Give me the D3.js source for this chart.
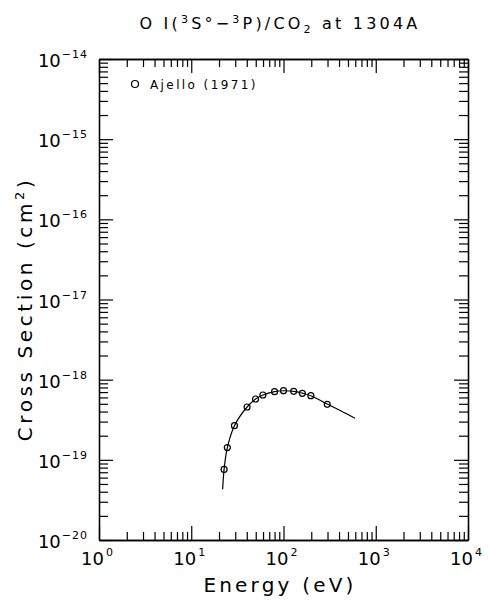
<!DOCTYPE html>
<html>
<head>
<meta charset="utf-8">
<script src="https://cdn.jsdelivr.net/npm/d3@7"></script>
<style>
  body { margin: 0; background: #fff; }
  text { font-family: "DejaVu Sans", sans-serif; font-weight: normal; fill: #000; }
</style>
</head>
<body>
<svg width="490" height="607"></svg>
<script>
// Ajello (1971) measured points
var energy = [22.7, 24.6, 29.4, 40.3, 49.8, 59.8, 80, 100, 129, 160, 198, 298];
var sigma = [7.6e-20, 1.42e-19, 2.67e-19, 4.56e-19, 5.74e-19, 6.44e-19, 7.08e-19, 7.29e-19, 7.16e-19, 6.76e-19, 6.31e-19, 4.93e-19];

// fitted curve
var fitEnergy = [21.9, 22.7, 24.6, 29.4, 40.3, 49.8, 59.8, 80, 100, 129, 160, 198, 298, 417, 596];
var fitSigma = [4.3e-20, 7.6e-20, 1.42e-19, 2.67e-19, 4.56e-19, 5.74e-19, 6.44e-19, 7.08e-19, 7.27e-19, 7.16e-19, 6.78e-19, 6.3e-19, 4.98e-19, 4.1e-19, 3.3e-19];

var xDecades = [0, 1, 2, 3, 4];
var yDecades = [-20, -19, -18, -17, -16, -15, -14];

var svg = d3.select("svg");
var margin = {top: 59, right: 22, bottom: 67, left: 99};
var width = +svg.attr("width") - margin.left - margin.right;
var height = +svg.attr("height") - margin.top - margin.bottom;
var group = svg.append("g").attr("transform", "translate(" + margin.left + "," + margin.top + ")");

var x = d3.scaleLog().domain([1, 1e4]).range([0, width]);
var y = d3.scaleLog().domain([1e-20, 1e-14]).range([height, 0]);

var majorX = xDecades.map(function(d) { return Math.pow(10, d); });
var majorY = yDecades.map(function(d) { return Math.pow(10, d); });
var minorX = [], minorY = [];
xDecades.slice(0, -1).forEach(function(d) {
  for (var k = 2; k < 10; k++) minorX.push(k * Math.pow(10, d));
});
yDecades.slice(0, -1).forEach(function(d) {
  for (var k = 2; k < 10; k++) minorY.push(k * Math.pow(10, d));
});

/* ticks on all four sides, pointing inward */
function addAxis(axis, tf) {
  var g = group.append("g").attr("transform", tf).call(axis);
  g.selectAll("path.domain").attr("stroke", "#000").attr("stroke-width", 1.3);
  g.selectAll("line").attr("stroke", "#000").attr("stroke-width", 1.2);
  g.selectAll("text").remove();
}
[[majorX, 14], [minorX, 8]].forEach(function(p) {
  addAxis(d3.axisBottom(x).tickValues(p[0]).tickSizeInner(-p[1]).tickSizeOuter(0), "translate(0," + height + ")");
  addAxis(d3.axisTop(x).tickValues(p[0]).tickSizeInner(-p[1]).tickSizeOuter(0), "translate(0,0)");
});
[[majorY, 14], [minorY, 9]].forEach(function(p) {
  addAxis(d3.axisLeft(y).tickValues(p[0]).tickSizeInner(-p[1]).tickSizeOuter(0), "translate(0,0)");
  addAxis(d3.axisRight(y).tickValues(p[0]).tickSizeInner(-p[1]).tickSizeOuter(0), "translate(" + width + ",0)");
});

/* tick labels: 10 with superscript exponent */
xDecades.forEach(function(d) {
  var t = group.append("text")
    .attr("x", x(Math.pow(10, d)) - 2)
    .attr("y", height + 25)
    .attr("text-anchor", "middle")
    .style("font-size", "18px");
  t.append("tspan").text("10");
  t.append("tspan").attr("dy", -9).attr("dx", 2).style("font-size", "11px").text(d);
});
yDecades.forEach(function(d) {
  var t = group.append("text")
    .attr("x", -11)
    .attr("y", y(Math.pow(10, d)) + 8)
    .attr("text-anchor", "end")
    .style("font-size", "18px");
  t.append("tspan").text("10");
  t.append("tspan").attr("dy", -9).attr("dx", 1).style("font-size", "11px").style("letter-spacing", "1px").text("\u2212" + Math.abs(d));
});

/* axis titles */
svg.append("text")
  .attr("x", 280).attr("y", 592)
  .attr("text-anchor", "middle")
  .style("font-size", "20px").style("letter-spacing", "3.2px")
  .text("Energy (eV)");

var yt = svg.append("text")
  .attr("transform", "translate(32,309) rotate(-90)")
  .attr("text-anchor", "middle")
  .style("font-size", "20px").style("letter-spacing", "3.6px");
yt.append("tspan").text("Cross Section (cm");
yt.append("tspan").attr("dy", -8).style("font-size", "13px").text("2");
yt.append("tspan").attr("dy", 8).text(")");

/* title */
var title = svg.append("text")
  .attr("x", 280).attr("y", 29)
  .attr("text-anchor", "middle")
  .style("font-size", "16px").style("letter-spacing", "3.2px");
title.append("tspan").text("O I(");
title.append("tspan").attr("dy", -6).style("font-size", "11px").text("3");
title.append("tspan").attr("dy", 6).text("S\u00b0\u2212");
title.append("tspan").attr("dy", -6).style("font-size", "11px").text("3");
title.append("tspan").attr("dy", 6).text("P)/CO");
title.append("tspan").attr("dy", 4).style("font-size", "11px").text("2");
title.append("tspan").attr("dy", -4).text(" at 1304A");

/* fit curve */
var fit = fitEnergy.map(function(e, i) { return {e: e, s: fitSigma[i]}; });
var line = d3.line()
  .x(function(d) { return x(d.e); })
  .y(function(d) { return y(d.s); })
  .curve(d3.curveCatmullRom);

group.append("path")
  .datum(fit)
  .attr("fill", "none")
  .attr("stroke", "#000")
  .attr("stroke-width", 1.2)
  .attr("d", line);

/* data points */
var pts = energy.map(function(e, i) { return {e: e, s: sigma[i]}; });
group.selectAll("circle.pt")
  .data(pts)
  .enter().append("circle")
  .attr("class", "pt")
  .attr("cx", function(d) { return x(d.e); })
  .attr("cy", function(d) { return y(d.s); })
  .attr("r", 3)
  .attr("fill", "none")
  .attr("stroke", "#000")
  .attr("stroke-width", 1.2);

/* legend */
svg.append("circle")
  .attr("cx", 135).attr("cy", 84).attr("r", 3.5)
  .attr("fill", "none").attr("stroke", "#000").attr("stroke-width", 1.2);
svg.append("text")
  .attr("x", 150).attr("y", 89)
  .style("font-size", "12px").style("letter-spacing", "2.4px")
  .text("Ajello (1971)");
</script>
</body>
</html>
